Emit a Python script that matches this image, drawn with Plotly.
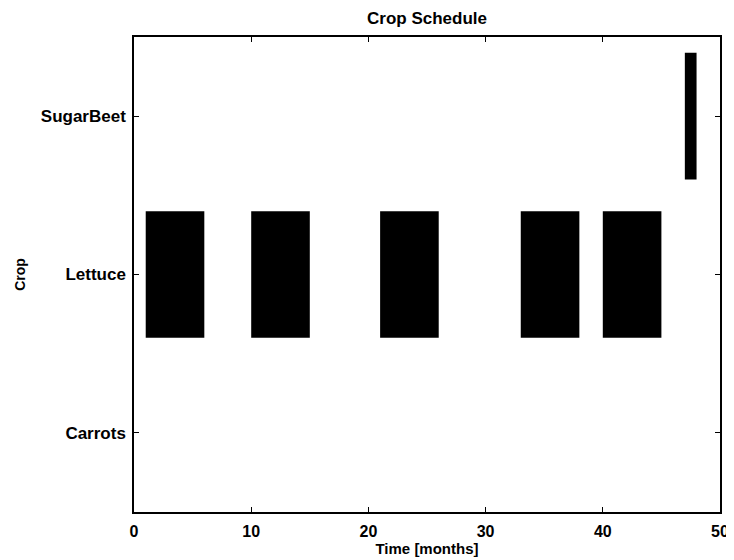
import plotly.graph_objects as go

# crop schedule: start month and length for each planting
crops = ["Carrots", "Lettuce", "SugarBeet"]
crop_idx = [1, 2, 3]

lettuce_start = [1, 10, 21, 33, 40]
lettuce_len = [5, 5, 5, 5, 5]
sugarbeet_start = [47]
sugarbeet_len = [1]

fig = go.Figure()

fig.add_trace(go.Bar(
    y=[2] * len(lettuce_start),
    x=lettuce_len,
    base=lettuce_start,
    orientation="h",
    width=0.8,
    marker=dict(color="black", line=dict(width=0)),
    name="Lettuce",
))

fig.add_trace(go.Bar(
    y=[3] * len(sugarbeet_start),
    x=sugarbeet_len,
    base=sugarbeet_start,
    orientation="h",
    width=0.8,
    marker=dict(color="black", line=dict(width=0)),
    name="SugarBeet",
))

axis_style = dict(
    showline=True, linecolor="black", linewidth=1.5, mirror="ticks",
    ticks="inside", ticklen=5, tickcolor="black", showgrid=False, zeroline=False,
)

# page has an 8px body margin, so margins are shifted by 8 to land the axes
fig.update_layout(
    width=734, height=560,
    margin=dict(l=126, r=22, t=29, b=56),
    plot_bgcolor="white", paper_bgcolor="white",
    showlegend=False,
    barmode="overlay",
    font=dict(family="Liberation Sans, Arial, sans-serif", size=16, color="black", weight="bold"),
    title=dict(text="<b>Crop Schedule</b>", x=0.5, xref="paper", xanchor="center",
               y=1 - 10.5 / 560, yref="container", yanchor="middle",
               font=dict(size=17)),
    xaxis=dict(range=[0, 50], tickvals=[0, 10, 20, 30, 40, 50],
               tickfont=dict(size=16, weight="bold"), ticklabelstandoff=4,
               title=dict(text="<b>Time [months]</b>", standoff=3, font=dict(size=15)),
               **axis_style),
    yaxis=dict(range=[0.5, 3.5], tickvals=crop_idx, ticktext=crops,
               tickfont=dict(size=17, weight="bold"), ticklabelstandoff=3,
               title=dict(text="<b>Crop</b>", standoff=12, font=dict(size=14)),
               **axis_style),
)

fig.write_html("out.html")
